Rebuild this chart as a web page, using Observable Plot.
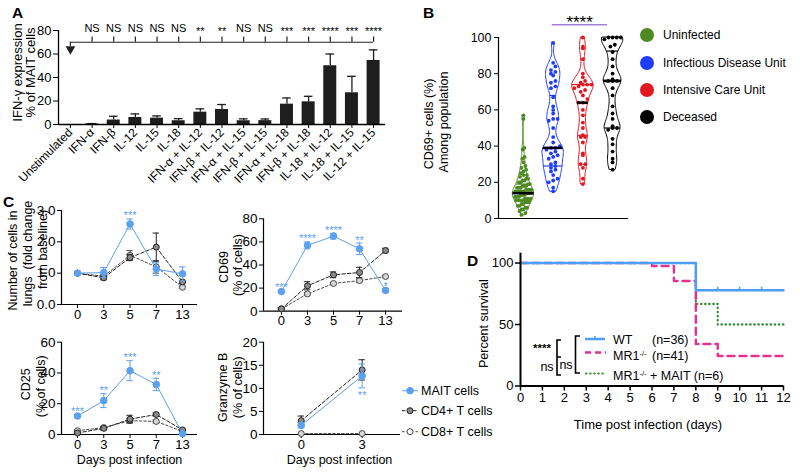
<!DOCTYPE html>
<html><head><meta charset="utf-8">
<script src="https://cdn.jsdelivr.net/npm/d3@7"></script>
<script src="https://cdn.jsdelivr.net/npm/@observablehq/plot@0.6"></script>
<style>
body{margin:0;background:#fff;}
#fig{position:relative;width:800px;height:472px;overflow:hidden;background:#fff;font-family:"Liberation Sans",Arial,Helvetica,sans-serif;}
</style></head><body><div id="fig"></div>
<script>
// ---------------- DATA ----------------
// Panel A
const catA = ["Unstimulated","IFN-α","IFN-β","IL-12","IL-15","IL-18","IFN-α + IL-12","IFN-β + IL-12","IFN-α + IL-15","IFN-β + IL-15","IFN-α + IL-18","IFN-β + IL-18","IL-18 + IL-12","IL-18 + IL-15","IL-12 + IL-15"];
const meanA = [0, 0.5, 3.8, 6, 5.4, 3.2, 10.5, 12.8, 3.2, 3.3, 17.3, 19.3, 50, 27, 54.5];
const semA  = [0, 0.3, 3.2, 3, 1.9, 1.8, 2.8, 4.2, 1.6, 1.4, 5.3, 4.7, 10, 14, 9];
const sigA  = ["", "NS","NS","NS","NS","NS","**","**","NS","NS","***","***","****","***","****"];

// Panel B
const groupsB = ["Uninfected","Infectious Disease Unit","Intensive Care Unit","Deceased"];
const colorsB = ["#4e8a22","#1f3cff","#e3161f","#000000"];
const uninfected = [57,55,39,38,34,33,31,29,28,27,26,25,24,24,23,22,22,21,21,20,20,19,19,18,18,18,17,17,17,16,16,16,15,15,15,15,14,14,14,14,14,13,13,13,13,12,12,12,12,11,11,11,10,10,10,9,9,9,8,8,7,7,6,6,5,5,4,3,2];
const infectiousUnit = [97,86,84,82,81,80,79,76,75,73,72,67,62,60,58,55,55,54,50,45,42,40,39,39,38,37,36,35,34,33,31,30,29,28,27,26,24,22,21,20,17,15];
const intensiveCare = [100,95,94,88,80,78,76,75,74,74,74,73,72,71,70,68,66,64,64,60,57,53,50,46,45,45,42,36,35,30,30,28,22,19];
const deceased = [100,100,100,100,99,96,95,92,88,84,80,77,76,76,76,72,68,62,58,55,51,50,50,49,44,41,37,33,31,27];
const medianB = [14, 39, 64, 76];
const q1B = [10, 29, 46, 50];
const q3B = [19, 68, 74, 92.5];

// Panel C
const daysC = ["0","3","5","7","13"];
const lungsMAIT = [1.0, 1.02, 2.57, 1.13, 0.98], lungsMAITErr = [0, 0.16, 0.16, 0.2, 0.22];
const lungsCD4  = [1.0, 0.85, 1.5, 1.83, 0.72],  lungsCD4Err  = [0, 0.06, 0.1, 0.45, 0.05];
const lungsCD8  = [1.0, 0.9, 1.57, 1.2, 0.55],   lungsCD8Err  = [0, 0.05, 0.15, 0.2, 0.03];
const lungsStars = ["", "", "***", "", ""];
const cd69MAIT = [17, 57, 65, 54, 18], cd69MAITErr = [1, 3, 2.5, 5, 1];
const cd69CD4  = [2, 22, 31.5, 33.5, 52.5], cd69CD4Err = [1, 3.5, 2.5, 4.5, 2];
const cd69CD8  = [2, 15, 24, 26.5, 30], cd69CD8Err = [0.5, 1, 1, 1.5, 1];
const cd69Stars = ["***","****","****","**","*"];
const cd25MAIT = [12, 22, 41.5, 32.5, 0.5], cd25MAITErr = [1, 4.5, 6.5, 4, 0.5];
const cd25CD4  = [1, 4, 10, 13, 3], cd25CD4Err = [0.5, 1, 2.5, 1, 0.5];
const cd25CD8  = [2.5, 4.5, 9, 8.5, 2], cd25CD8Err = [0.5, 0.5, 1.5, 1, 0.5];
const cd25Stars = ["***","**","***","**",""];
const daysGzm = ["0","3"];
const gzmMAIT = [2, 12.7], gzmMAITErr = [0.6, 2.6];
const gzmCD4  = [3, 14], gzmCD4Err = [1, 2.2];
const gzmCD8  = [0.2, 0.2], gzmCD8Err = [0, 0];
const gzmStars = ["", "**"];
const seriesC = ["MAIT cells","CD4+ T cells","CD8+ T cells"];

// Panel D
const daysD = [0,1,2,3,4,5,6,7,8,9,10,11,12];
const wtTime = [0, 8, 12], wtSurv = [100, 77.8, 77.8], wtCensor = [9, 10, 11];
const mr1Time = [0, 6, 7, 8, 9, 12], mr1Surv = [100, 97.6, 85.4, 34.1, 24.4, 24.4];
const mr1MaitTime = [0, 8, 9, 12], mr1MaitSurv = [100, 66.7, 50, 50];

// ---------------- HELPERS ----------------
const FONT = "'Liberation Sans', Arial, Helvetica, sans-serif";
const sty = {fontFamily: FONT, fontSize: "12px", background: "transparent", color: "#000", overflow: "visible"};
const fig = document.getElementById("fig");
function place(node, left, top) {
  node.style.position = "absolute"; node.style.left = left + "px"; node.style.top = top + "px";
  fig.appendChild(node);
}
const yTitle = (t, dx, dy, fs) => Plot.text([t], {text: d => d, frameAnchor: "left", textAnchor: "middle", lineAnchor: "middle", dx, dy, rotate: -90, fontSize: fs});

// ---------------- PANEL A ----------------
const dA = catA.map((c, i) => ({i, v: meanA[i], e: semA[i], s: sigA[i]}));
const sigLevelA = 70, sigTextA = 81.5;
const plotA = Plot.plot({
  width: 400, height: 245, marginLeft: 58, marginRight: 15, marginTop: 30, marginBottom: 121,
  style: sty,
  x: {domain: [-0.55, 14.55], label: null},
  y: {domain: [0, 80], label: null},
  marks: [
    Plot.rect(dA, {x1: d => d.i - 0.3, x2: d => d.i + 0.3, y1: 0, y2: "v", fill: "#1e1e1e"}),
    Plot.ruleX(dA.filter(d => d.e > 0), {x: "i", y1: "v", y2: d => d.v + d.e, stroke: "#1e1e1e", strokeWidth: 1.3}),
    Plot.ruleY(dA.filter(d => d.e > 0), {y: d => d.v + d.e, x1: d => d.i - 0.2, x2: d => d.i + 0.2, stroke: "#1e1e1e", strokeWidth: 1.3}),
    Plot.ruleY([0], {stroke: "#000", strokeWidth: 1.3}),
    Plot.ruleX([-0.55], {y1: 0, y2: 80, stroke: "#000", strokeWidth: 1.3}),
    Plot.axisY({ticks: [0, 20, 40, 60, 80], tickSize: 5, tickPadding: 2, fontSize: 13, label: null}),
    Plot.axisX({ticks: d3.range(catA.length), tickFormat: i => catA[i], tickRotate: -45, tickSize: 4, tickPadding: 2, fontSize: 12, label: null}),
    Plot.ruleY([sigLevelA], {x1: 0, x2: catA.length - 1, stroke: "#222", strokeWidth: 1.2}),
    Plot.ruleX(dA.slice(1), {x: "i", y1: sigLevelA, y2: sigLevelA + 4.5, stroke: "#222", strokeWidth: 1.2}),
    Plot.ruleX([0], {y1: sigLevelA - 3.5, y2: sigLevelA, stroke: "#222", strokeWidth: 1.2}),
    Plot.dot([0], {x: d => d, y: sigLevelA - 5.8, symbol: "triangle", r: 3.6, rotate: 180, fill: "#222", stroke: "none"}),
    Plot.text(dA.filter(d => d.s === "NS"), {x: "i", y: sigTextA, text: "s", fontSize: 11}),
    Plot.text(dA.filter(d => d.s && d.s !== "NS"), {x: "i", y: sigTextA, text: "s", fontSize: 11, dy: 3}),
    yTitle("IFN-γ expression", -41, -5, 13),
    yTitle("% of MAIT cells", -28, -5, 13)
  ]
});
place(plotA, 0, 0);

// ---------------- PANEL B ----------------
const valsB = [uninfected, infectiousUnit, intensiveCare, deceased];
const bwB = [2.5, 3.5, 3.5, 3.5];
const halfW = 0.36;
const marksB = [];
valsB.forEach((vals, gi) => {
  const lo = d3.min(vals), hi = d3.max(vals);
  const dens = y => d3.sum(vals, u => Math.exp(-0.5 * ((y - u) / bwB[gi]) ** 2));
  const grid = d3.range(121).map(k => lo + (hi - lo) * k / 120);
  const m = d3.max(grid, dens);
  const wAt = y => dens(y) / m * halfW;
  const shape = grid.map(y => ({y, w: wAt(y)}));
  marksB.push(Plot.areaX(shape, {y: "y", x1: d => gi - d.w, x2: d => gi + d.w, fill: "#fff", stroke: colorsB[gi], strokeWidth: 1}));
  const qs = [q1B[gi], q3B[gi]].map(v => ({v, w: wAt(v)}));
  marksB.push(Plot.ruleY(qs, {y: "v", x1: d => gi - d.w, x2: d => gi + d.w, stroke: colorsB[gi], strokeWidth: 1.2}));
  const sorted = vals.slice().sort((a, b) => a - b);
  const bins = d3.groups(sorted, v => Math.round(v / 2.6));
  const pts = [];
  for (const [, arr] of bins) {
    const n = arr.length, w = wAt(d3.mean(arr));
    const sp = n > 1 ? Math.min(0.15, (2 * w * 0.8) / (n - 1)) : 0;
    arr.forEach((v, j) => pts.push({v, x: gi + (j - (n - 1) / 2) * sp}));
  }
  marksB.push(Plot.dot(pts, {x: "x", y: "v", r: 1.9, fill: colorsB[gi], stroke: "none"}));
  const med = [{v: medianB[gi], w: wAt(medianB[gi])}];
  marksB.push(Plot.ruleY(med, {y: "v", x1: d => gi - d.w, x2: d => gi + d.w, stroke: "#000", strokeWidth: 2.6}));
});
const plotB = Plot.plot({
  width: 400, height: 230, marginLeft: 98, marginRight: 172, marginTop: 37, marginBottom: 12,
  style: sty,
  x: {domain: [-0.84, 3.535], axis: null},
  y: {domain: [0, 100], label: null},
  marks: [
    ...marksB,
    Plot.ruleY([0], {stroke: "#000", strokeWidth: 1.2}),
    Plot.ruleX([-0.84], {y1: 0, y2: 100, stroke: "#000", strokeWidth: 1.2}),
    Plot.axisY({ticks: [0, 20, 40, 60, 80, 100], tickSize: 4, tickPadding: 3, fontSize: 12.5, label: null}),
    Plot.ruleY([107], {x1: 0.97, x2: 2.83, stroke: "#a57fdc", strokeWidth: 1.5}),
    Plot.text(["****"], {text: d => d, x: 1.89, y: 111, fontSize: 17, dy: 5}),
    yTitle("CD69+ cells (%)", -70, -4, 12.5),
    yTitle("Among population", -55, -6, 12.5)
  ]
});
place(plotB, 400, 0);

// ---------------- PANEL C ----------------
const BLUE_C = "#5ca0f0";
function linePanel(cfg) {
  const {days, mait, maitErr, cd4, cd4Err, cd8, cd8Err, stars, starsBelow, yMax, yTicks, xDomain, w, h, mL, mR, mT, mB, titles, xlabel, xlabelDx} = cfg;
  const ser = [
    {v: cd8, e: cd8Err, stroke: "#4a4a4a", fill: "#d6d6d6", dash: "2.5,2"},
    {v: cd4, e: cd4Err, stroke: "#222", fill: "#8a8a8a", dash: "3.5,2"},
    {v: mait, e: maitErr, stroke: BLUE_C, fill: BLUE_C, dash: null}
  ];
  const step = (w - mL - mR) / (xDomain[1] - xDomain[0]);
  const cap = 3.2 / step;
  const marks = [
    Plot.ruleY([0], {stroke: "#000", strokeWidth: 1.2}),
    Plot.ruleX([xDomain[0]], {y1: 0, y2: yMax, stroke: "#000", strokeWidth: 1.2}),
    Plot.axisY({ticks: yTicks, tickSize: 4, tickPadding: 2, fontSize: 13.5, label: null}),
    Plot.axisX({ticks: d3.range(days.length), tickFormat: i => days[i], tickSize: 4, tickPadding: 1, fontSize: 13, label: null})
  ];
  ser.forEach(s => {
    const d = days.map((lab, i) => ({i, v: s.v[i], e: s.e[i]}));
    marks.push(Plot.line(d, {x: "i", y: "v", stroke: s.stroke, strokeWidth: 1, strokeDasharray: s.dash}));
    const de = d.filter(p => p.e > 0);
    marks.push(Plot.ruleX(de, {x: "i", y1: p => Math.max(0, p.v - p.e), y2: p => p.v + p.e, stroke: s.stroke, strokeWidth: 1}));
    marks.push(Plot.ruleY(de, {y: p => p.v + p.e, x1: p => p.i - cap, x2: p => p.i + cap, stroke: s.stroke, strokeWidth: 1}));
    marks.push(Plot.ruleY(de, {y: p => Math.max(0, p.v - p.e), x1: p => p.i - cap, x2: p => p.i + cap, stroke: s.stroke, strokeWidth: 1}));
    marks.push(Plot.dot(d, {x: "i", y: "v", r: s.stroke === BLUE_C ? 3.3 : 3, fill: s.fill, stroke: s.stroke, strokeWidth: 1}));
  });
  const st = days.map((_, i) => ({i, s: stars[i], y: starsBelow ? mait[i] - maitErr[i] : mait[i] + maitErr[i]})).filter(d => d.s);
  marks.push(Plot.text(st, {x: "i", y: "y", text: "s", dy: starsBelow ? 8 : -3, fill: BLUE_C, fontSize: 11}));
  titles.forEach(t => marks.push(yTitle(t.text, t.dx, t.dy, 12.5)));
  if (xlabel) marks.push(Plot.text([xlabel], {text: d => d, frameAnchor: "bottom", textAnchor: "middle", lineAnchor: "middle", dx: xlabelDx || 0, dy: 25.5, fontSize: 12.5}));
  return Plot.plot({
    width: w, height: h, marginLeft: mL, marginRight: mR, marginTop: mT, marginBottom: mB,
    style: sty, x: {domain: xDomain, label: null}, y: {domain: [0, yMax], label: null}, marks
  });
}
place(linePanel({days: daysC, mait: lungsMAIT, maitErr: lungsMAITErr, cd4: lungsCD4, cd4Err: lungsCD4Err, cd8: lungsCD8, cd8Err: lungsCD8Err,
  stars: lungsStars, yMax: 3, yTicks: [0, 1, 2, 3], xDomain: [-0.61, 4.57], w: 200, h: 130, mL: 61, mR: 3, mT: 10, mB: 26,
  titles: [{text: "Number of cells in", dx: -49, dy: 3}, {text: "lungs  (fold change", dx: -34, dy: -4}, {text: "from baseline)", dx: -19, dy: -8}]}), 0, 200);
place(linePanel({days: daysC, mait: cd69MAIT, maitErr: cd69MAITErr, cd4: cd69CD4, cd4Err: cd69CD4Err, cd8: cd69CD8, cd8Err: cd69CD8Err,
  stars: cd69Stars, yMax: 80, yTicks: [0, 20, 40, 60, 80], xDomain: [-0.69, 4.65], w: 205, h: 136, mL: 63, mR: 3, mT: 18.3, mB: 25.3,
  titles: [{text: "CD69", dx: -40, dy: 2}, {text: "(% of cells)", dx: -26, dy: 0}]}), 200, 200);
place(linePanel({days: daysC, mait: cd25MAIT, maitErr: cd25MAITErr, cd4: cd25CD4, cd4Err: cd25CD4Err, cd8: cd25CD8, cd8Err: cd25CD8Err,
  stars: cd25Stars, yMax: 60, yTicks: [0, 20, 40, 60], xDomain: [-0.61, 4.57], w: 200, h: 140, mL: 61, mR: 3, mT: 11.7, mB: 36,
  titles: [{text: "CD25", dx: -36, dy: -4}, {text: "(% of cells)", dx: -21, dy: -2}], xlabel: "Days post infection"}), 0, 330);
place(linePanel({days: daysGzm, mait: gzmMAIT, maitErr: gzmMAITErr, cd4: gzmCD4, cd4Err: gzmCD4Err, cd8: gzmCD8, cd8Err: gzmCD8Err,
  stars: gzmStars, starsBelow: true, yMax: 20, yTicks: [0, 5, 10, 15, 20], xDomain: [-0.62, 1.63], w: 205, h: 140, mL: 63, mR: 5, mT: 11.7, mB: 36,
  titles: [{text: "Granzyme B", dx: -41, dy: -1}, {text: "(% of cells)", dx: -26, dy: -1}], xlabel: "Days post infection", xlabelDx: 7.5}), 200, 330);

// ---------------- PANEL D ----------------
const toRows = (t, s) => t.map((x, i) => ({t: x, s: s[i]}));
const plotD = Plot.plot({
  width: 340, height: 232, marginLeft: 60, marginRight: 17, marginTop: 12.7, marginBottom: 86.5,
  style: sty,
  x: {domain: [0, 12], label: null},
  y: {domain: [0, 108], label: null},
  marks: [
    Plot.line(toRows(mr1MaitTime, mr1MaitSurv), {x: "t", y: "s", curve: "step-after", stroke: "#3e9140", strokeWidth: 2.3, strokeDasharray: "0.5,3.6", strokeLinecap: "round"}),
    Plot.line(toRows(mr1Time, mr1Surv), {x: "t", y: "s", curve: "step-after", stroke: "#e4308f", strokeWidth: 2.4, strokeDasharray: "7,5"}),
    Plot.line(toRows(wtTime, wtSurv), {x: "t", y: "s", curve: "step-after", stroke: "#4d9ef5", strokeWidth: 2.5}),
    Plot.ruleX(wtCensor, {x: d => d, y1: wtSurv[1], y2: wtSurv[1] + 2.6, stroke: "#4d9ef5", strokeWidth: 1.5}),
    Plot.ruleY([0], {stroke: "#000", strokeWidth: 2}),
    Plot.ruleX([0], {y1: 0, y2: 108, stroke: "#000", strokeWidth: 2}),
    Plot.axisY({ticks: [0, 50, 100], tickSize: 5, tickPadding: 2, fontSize: 13, label: null, strokeWidth: 1.5}),
    Plot.axisX({ticks: daysD, tickFormat: d => String(d), tickSize: 5, tickPadding: 2, fontSize: 13, label: null, strokeWidth: 1.5}),
    Plot.text(["Time post infection (days)"], {text: d => d, frameAnchor: "bottom", textAnchor: "middle", lineAnchor: "middle", dx: -4, dy: 38.5, fontSize: 13}),
    yTitle("Percent survival", -37, 4, 12.5)
  ]
});
place(plotD, 460, 240);

// ---------------- OVERLAY: letters, legends, brackets ----------------
const ov = d3.create("svg").attr("width", 800).attr("height", 472)
  .style("position", "absolute").style("left", "0px").style("top", "0px")
  .style("font-family", FONT).style("pointer-events", "none");
[["A", 12, 18], ["B", 423, 18], ["C", 3, 207], ["D", 467, 266]].forEach(([t, x, y]) =>
  ov.append("text").attr("x", x).attr("y", y).attr("font-size", 15.5).attr("font-weight", "bold").text(t));

// Legend B
const legBy = [35, 63, 90, 117];
groupsB.forEach((g, i) => {
  ov.append("circle").attr("cx", 647).attr("cy", legBy[i]).attr("r", 7).attr("fill", colorsB[i]);
  ov.append("text").attr("x", 663).attr("y", legBy[i]).attr("dy", "0.35em").attr("font-size", 12).text(g);
});

// Legend C
const legCy = [390.7, 410.7, 431.7];
const legCstyle = [
  {stroke: BLUE_C, fill: BLUE_C, dash: null, r: 3.3},
  {stroke: "#222", fill: "#8a8a8a", dash: "3.5,2", r: 3},
  {stroke: "#4a4a4a", fill: "#fff", dash: "2.5,2", r: 3}
];
seriesC.forEach((s, i) => {
  const st = legCstyle[i];
  ov.append("line").attr("x1", 402).attr("x2", 418).attr("y1", legCy[i]).attr("y2", legCy[i])
    .attr("stroke", st.stroke).attr("stroke-width", 1).attr("stroke-dasharray", st.dash);
  ov.append("circle").attr("cx", 410).attr("cy", legCy[i]).attr("r", st.r).attr("fill", st.fill).attr("stroke", st.stroke);
  ov.append("text").attr("x", 421).attr("y", legCy[i]).attr("dy", "0.35em").attr("font-size", 12.5).text(s);
});

// Legend D
const legDy = [339, 355.5, 375.5];
ov.append("line").attr("x1", 585).attr("x2", 605).attr("y1", legDy[0]).attr("y2", legDy[0]).attr("stroke", "#4d9ef5").attr("stroke-width", 2.5);
ov.append("line").attr("x1", 595).attr("x2", 595).attr("y1", legDy[0] - 3).attr("y2", legDy[0]).attr("stroke", "#4d9ef5").attr("stroke-width", 1.5);
ov.append("line").attr("x1", 585).attr("x2", 606).attr("y1", legDy[1] - 3).attr("y2", legDy[1] - 3).attr("stroke", "#e4308f").attr("stroke-width", 2.4).attr("stroke-dasharray", "6,4");
ov.append("line").attr("x1", 586).attr("x2", 604).attr("y1", legDy[2] - 2).attr("y2", legDy[2] - 2).attr("stroke", "#3e9140").attr("stroke-width", 2.2).attr("stroke-dasharray", "0.5,3.6").attr("stroke-linecap", "round");
function legText(y, parts) {
  const t = ov.append("text").attr("x", 613).attr("y", y + 4.5).attr("font-size", 12.5);
  parts.forEach(p => {
    const s = t.append("tspan").text(p.t);
    if (p.sup) s.attr("font-size", 7.5).attr("baseline-shift", "super");
    if (p.x) s.attr("x", p.x);
  });
}
legText(legDy[0], [{t: "WT"}, {t: "(n=36)", x: 652}]);
legText(legDy[1], [{t: "MR1"}, {t: "-/-", sup: true}, {t: "(n=41)", x: 652}]);
legText(legDy[2], [{t: "MR1"}, {t: "-/-", sup: true}, {t: " + MAIT (n=6)"}]);
// brackets D
ov.append("path").attr("d", "M561,340H557V375H561M557,357H561").attr("fill", "none").attr("stroke", "#000").attr("stroke-width", 1.6);
ov.append("path").attr("d", "M580,336H575.5V373H580").attr("fill", "none").attr("stroke", "#000").attr("stroke-width", 1.6);
ov.append("text").attr("x", 542).attr("y", 352).attr("text-anchor", "middle").attr("font-size", 11.5).attr("font-weight", "bold").text("****");
ov.append("text").attr("x", 547).attr("y", 367).attr("dy", "0.35em").attr("text-anchor", "middle").attr("font-size", 12.5).text("ns");
ov.append("text").attr("x", 566).attr("y", 365).attr("dy", "0.35em").attr("text-anchor", "middle").attr("font-size", 12.5).text("ns");

fig.appendChild(ov.node());
</script></body></html>
